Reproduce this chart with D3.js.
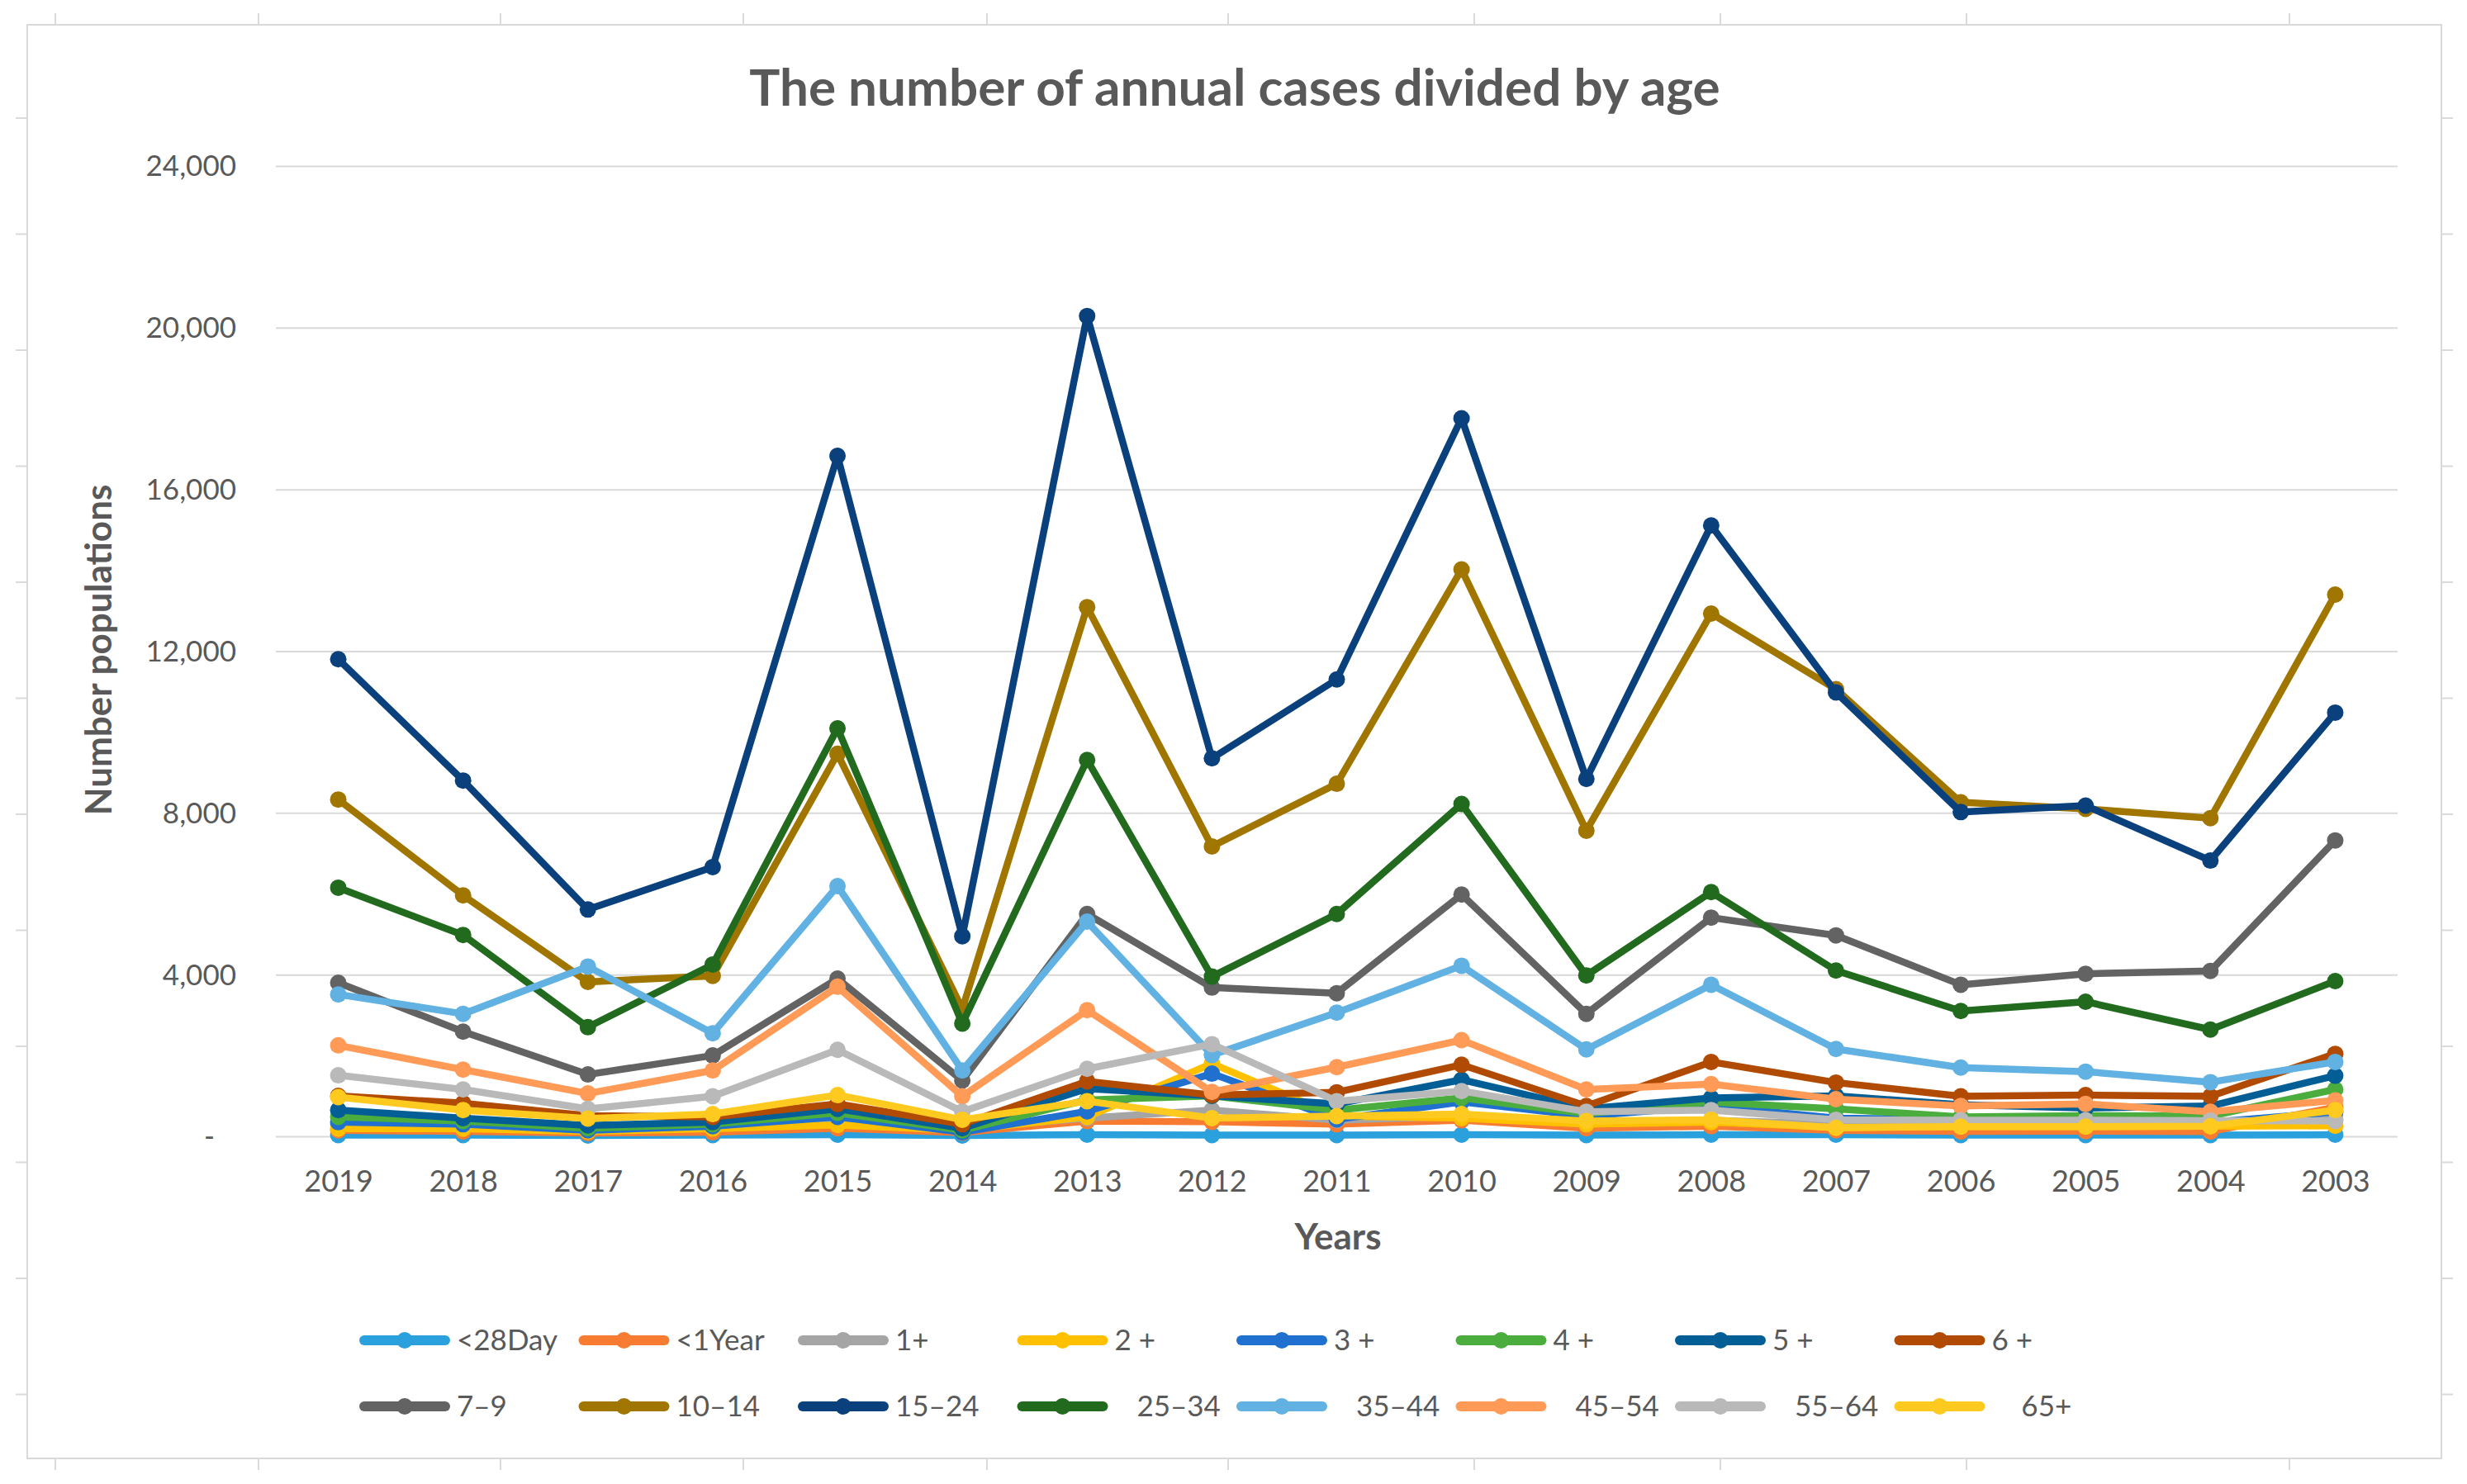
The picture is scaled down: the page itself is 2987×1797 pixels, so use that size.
<!DOCTYPE html>
<html lang="en">
<head>
<meta charset="utf-8">
<title>The number of annual cases divided by age</title>
<script src="https://d3js.org/d3.v7.min.js"></script>
<style>
  html, body { margin: 0; padding: 0; background: #fff; }
  svg text { font-family: Lato, "Open Sans", "Noto Sans", sans-serif; fill: #595959; }
</style>
</head>
<body>
<div id="chart"></div>
<script>
// years on the category axis (Excel order: newest on the left)
const years = ["2019","2018","2017","2016","2015","2014","2013","2012","2011","2010","2009","2008","2007","2006","2005","2004","2003"];

// series names, in legend / drawing order
const seriesNames = ["<28Day","<1Year","1+","2 +","3 +","4 +","5 +","6 +",
                     "7\u20139","10\u201314","15\u201324","   25\u201334","   35\u201344","   45\u201354","   55\u201364","    65+"];
const seriesColors = ["#2aa0dc","#f77b30","#a5a5a5","#ffc000","#1f70cf","#4aad3d","#035e96","#b14a02",
                      "#636363","#a07500","#0a417c","#216a1e","#61b1e3","#ff9a57","#b9b9b9","#ffca1f"];

// values, one array per age group (2019 ... 2003)
const lt28Day = [30, 30, 20, 30, 40, 20, 40, 30, 30, 40, 30, 40, 40, 30, 30, 30, 40];
const lt1Year = [150, 120, 80, 100, 200, 90, 380, 360, 300, 400, 200, 250, 150, 120, 130, 120, 720];
const age1 = [300, 250, 150, 200, 350, 200, 450, 650, 400, 500, 300, 400, 300, 350, 350, 300, 420];
const age2 = [190, 190, 120, 190, 280, 150, 480, 1800, 500, 450, 300, 350, 220, 240, 240, 250, 260];
const age3 = [350, 300, 150, 250, 480, 100, 620, 1550, 420, 850, 500, 750, 450, 410, 400, 350, 600];
const age4 = [480, 380, 200, 300, 580, 150, 900, 1000, 650, 950, 560, 850, 680, 480, 510, 500, 1160];
const age5 = [650, 450, 270, 350, 680, 200, 1180, 1000, 800, 1400, 680, 950, 1000, 780, 700, 750, 1500];
const age6 = [1000, 820, 510, 480, 800, 300, 1360, 1020, 1090, 1770, 750, 1840, 1330, 990, 1020, 990, 2040];
const age7to9 = [3800, 2590, 1530, 2000, 3900, 1380, 5500, 3680, 3540, 5980, 3030, 5410, 4970, 3750, 4020, 4090, 7320];
const age10to14 = [8330, 5960, 3820, 3970, 9460, 3150, 13090, 7170, 8720, 14020, 7560, 12930, 11060, 8260, 8100, 7870, 13400];
const age15to24 = [11800, 8800, 5610, 6660, 16830, 4950, 20290, 9350, 11300, 17760, 8840, 15110, 10980, 8020, 8180, 6820, 10480];
const age25to34 = [6150, 4980, 2700, 4250, 10090, 2790, 9310, 3950, 5500, 8220, 3980, 6040, 4100, 3100, 3330, 2640, 3840];
const age35to44 = [3510, 3030, 4200, 2550, 6190, 1630, 5310, 2010, 3060, 4220, 2150, 3750, 2160, 1700, 1600, 1340, 1840];
const age45to54 = [2250, 1650, 1060, 1630, 3700, 990, 3120, 1100, 1710, 2380, 1160, 1290, 920, 750, 800, 610, 890];
const age55to64 = [1510, 1160, 680, 990, 2140, 610, 1670, 2280, 870, 1120, 610, 650, 410, 400, 400, 390, 380];
const age65plus = [970, 650, 440, 550, 1020, 410, 870, 450, 500, 550, 380, 410, 210, 240, 240, 250, 650];

const yTicks = [0, 4000, 8000, 12000, 16000, 20000, 24000];

const seriesValues = [lt28Day, lt1Year, age1, age2, age3, age4, age5, age6,
                      age7to9, age10to14, age15to24, age25to34, age35to44, age45to54, age55to64, age65plus];
const series = seriesNames.map((name, i) => ({name: name, color: seriesColors[i], values: seriesValues[i]}));

const W = 2987, H = 1797;
const svg = d3.select("#chart").append("svg").attr("width", W).attr("height", H);

// faint sheet cell ticks around the chart frame
const frame = {left: 33, top: 30, right: 2956, bottom: 1766};
const g_ticks = svg.append("g").attr("stroke", "#dadada").attr("stroke-width", 2);
[67, 313, 606, 900, 1195, 1487, 1785, 2083, 2381, 2772].forEach(x => {
  g_ticks.append("line").attr("x1", x).attr("x2", x).attr("y1", frame.top - 14).attr("y2", frame.top);
  g_ticks.append("line").attr("x1", x).attr("x2", x).attr("y1", frame.bottom).attr("y2", frame.bottom + 14);
});
d3.range(143, 1766, 140.5).forEach(y => {
  g_ticks.append("line").attr("x1", frame.left - 14).attr("x2", frame.left).attr("y1", y).attr("y2", y);
  g_ticks.append("line").attr("x1", frame.right).attr("x2", frame.right + 14).attr("y1", y).attr("y2", y);
});

svg.append("rect")
  .attr("x", frame.left).attr("y", frame.top)
  .attr("width", frame.right - frame.left).attr("height", frame.bottom - frame.top)
  .attr("fill", "#fff").attr("stroke", "#d9d9d9").attr("stroke-width", 2);

// scales
const x = d3.scalePoint().domain(years).range([334, 2903]).padding(0.5);
const y = d3.scaleLinear().domain([0, 24000]).range([1376, 201]);

// gridlines + y labels
const yAxis = d3.axisLeft(y).tickValues(yTicks).tickSize(-(2903 - 334))
  .tickFormat(d => d === 0 ? "-" : d3.format(",")(d));
const gy = svg.append("g").attr("transform", "translate(334,0)").call(yAxis);
gy.select(".domain").remove();
gy.selectAll(".tick line").attr("stroke", "#d9d9d9").attr("stroke-width", 2);
gy.selectAll(".tick text").attr("x", -48).attr("font-size", 35).attr("dy", "0.34em")
  .filter(d => d === 0).attr("x", -74);

// x labels
const xAxis = d3.axisBottom(x).tickSize(0);
const gx = svg.append("g").attr("transform", "translate(0,1376)").call(xAxis);
gx.select(".domain").remove();
gx.selectAll(".tick text").attr("font-size", 36).attr("y", 55).attr("dy", "0.34em");

// lines
const line = d3.line().x((d, i) => x(years[i])).y(d => y(d));
const gs = svg.append("g");
series.forEach(s => {
  const g = gs.append("g");
  g.append("path").attr("d", line(s.values)).attr("fill", "none")
    .attr("stroke", s.color).attr("stroke-width", 8.5).attr("stroke-linejoin", "round").attr("stroke-linecap", "round");
  g.selectAll("circle").data(s.values).join("circle")
    .attr("cx", (d, i) => x(years[i])).attr("cy", d => y(d)).attr("r", 10).attr("fill", s.color);
});

// titles
svg.append("text").attr("x", 1495).attr("y", 106).attr("text-anchor", "middle").attr("dy", "0.35em")
  .attr("font-size", 62).attr("font-weight", "bold")
  .text("The number of annual cases divided by age");
svg.append("text").attr("x", 1620).attr("y", 1498).attr("text-anchor", "middle").attr("dy", "0.35em")
  .attr("font-size", 44).attr("font-weight", "bold").text("Years");
svg.append("text").attr("transform", "translate(120,787) rotate(-90)").attr("text-anchor", "middle").attr("dy", "0.35em")
  .attr("font-size", 44).attr("font-weight", "bold").text("Number populations");

// legend: two rows of eight
const legend = svg.append("g");
series.forEach((s, i) => {
  const col = i % 8, row = Math.floor(i / 8);
  const lx = 441 + col * 265.5, ly = 1623 + row * 80;
  const item = legend.append("g").attr("transform", `translate(${lx},${ly})`);
  item.append("line").attr("x1", 0).attr("x2", 98).attr("y1", 0).attr("y2", 0)
    .attr("stroke", s.color).attr("stroke-width", 12).attr("stroke-linecap", "round");
  item.append("circle").attr("cx", 49).attr("cy", 0).attr("r", 10).attr("fill", s.color);
  item.append("text").attr("x", 112).attr("y", 0).attr("dy", "0.35em").attr("font-size", 35)
    .style("white-space", "pre").text(s.name);
});
</script>
</body>
</html>
